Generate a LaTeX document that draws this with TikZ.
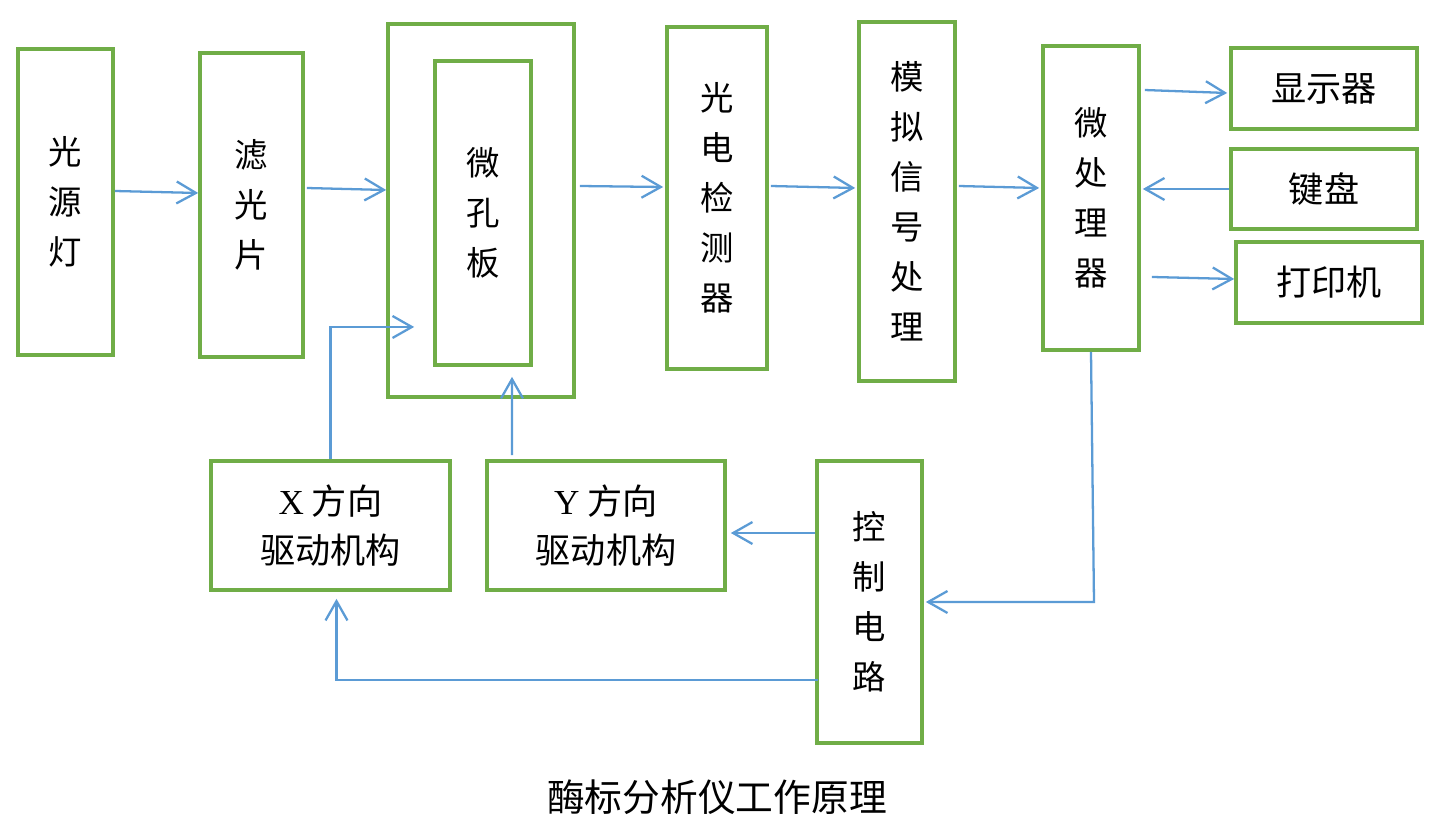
\documentclass[tikz,border=0pt]{standalone}
\usepackage{fontspec}
\setmainfont{Liberation Serif}
\newfontfamily\cjk{Noto Sans CJK SC}
\usepackage{xcolor}
\usepackage{tikz}
\usetikzlibrary{positioning, arrows.meta}
\definecolor{caja}{RGB}{112,173,71}
\definecolor{flecha}{RGB}{91,155,213}

\begin{document}
\begin{tikzpicture}[x=0.02cm, y=-0.02cm,
    bloque/.style={draw=caja, line width=2.1pt, rectangle, inner sep=0pt,
        align=center, font=\cjk\fontsize{19}{28.5}\selectfont},
    flechita/.style={draw=flecha, line width=1.3pt,
        -{Straight Barb[length=11pt, width=12.5pt, line width=1.3pt]}}]
    \useasboundingbox (0,0) rectangle (1454,827);
    % Bloques de la fila superior
    \node[bloque, minimum width=1.9cm, minimum height=6.12cm] (lampara) at (65.5,202) {光\\源\\灯};
    \node[bloque, minimum width=2.06cm, minimum height=6.08cm] (filtro) at (251.5,205) {滤\\光\\片};
    \node[bloque, minimum width=3.72cm, minimum height=7.46cm] (placa) at (481,210.5) {};
    \node[bloque, minimum width=1.92cm, minimum height=6.08cm] (pocillo) at (483,213) {微\\孔\\板};
    \node[bloque, minimum width=2.0cm, minimum height=6.84cm] (detector) at (717,198) {光\\电\\检\\测\\器};
    \node[bloque, minimum width=1.92cm, minimum height=7.18cm] (senal) at (907,201.5) {模\\拟\\信\\号\\处\\理};
    \node[bloque, minimum width=1.92cm, minimum height=6.08cm] (cpu) at (1091,198) {微\\处\\理\\器};
    % Perifericos
    \node[bloque, font=\cjk\fontsize{20}{30}\selectfont, minimum width=3.72cm, minimum height=1.62cm] (pantalla) at (1324,88.5) {显示器};
    \node[bloque, font=\cjk\fontsize{20}{30}\selectfont, minimum width=3.72cm, minimum height=1.6cm] (teclado) at (1324,189) {键盘};
    \node[bloque, font=\cjk\fontsize{20}{30}\selectfont, minimum width=3.72cm, minimum height=1.62cm] (impresora) at (1329,282.5) {打印机};
    % Bloques de la fila inferior
    \node[bloque, font=\cjk\fontsize{20}{28}\selectfont, minimum width=4.78cm, minimum height=2.58cm] (motorx) at (330.5,525.5) {{\rmfamily X} 方向\\驱动机构};
    \node[bloque, font=\cjk\fontsize{20}{28}\selectfont, minimum width=4.76cm, minimum height=2.58cm] (motory) at (606,525.5) {{\rmfamily Y} 方向\\驱动机构};
    \node[bloque, minimum width=2.1cm, minimum height=5.64cm] (control) at (869.5,602) {控\\制\\电\\路};
    % Texto debajo del diagrama
    \node[font=\cjk\fontsize{21.5}{26}\selectfont] (titulo) at (717,797) {酶标分析仪工作原理};
    % Flechas de la fila superior
    \draw[flechita] ([yshift=0.22cm]lampara.east) -- ([yshift=0.24cm]filtro.west);
    \draw[flechita] ([xshift=0.04cm, yshift=0.34cm]filtro.east) -- ([yshift=0.41cm]placa.west);
    \draw[flechita] ([xshift=0.08cm, yshift=0.49cm]placa.east) -- ([xshift=-0.04cm, yshift=0.22cm]detector.west);
    \draw[flechita] ([xshift=0.04cm, yshift=0.24cm]detector.east) -- ([xshift=-0.04cm, yshift=0.27cm]senal.west);
    \draw[flechita] ([xshift=0.04cm, yshift=0.31cm]senal.east) -- ([xshift=-0.04cm, yshift=0.2cm]cpu.west);
    \draw[flechita] ([xshift=0.08cm, yshift=2.16cm]cpu.east) -- ([xshift=-0.04cm, yshift=-0.09cm]pantalla.west);
    \draw[flechita] (teclado.west) -- ([xshift=0.04cm]cpu.east |- teclado.west);
    \draw[flechita] ([xshift=0.22cm, yshift=-1.58cm]cpu.east) -- ([yshift=0.07cm]impresora.west);
    % Flechas de control
    \draw[flechita] (cpu.south) -- ([xshift=0.06cm]cpu.south |- control.east) -- ([xshift=0.04cm]control.east);
    \draw[flechita] ([yshift=1.38cm]control.west) -- ([xshift=0.08cm, yshift=1.38cm]control.west -| motory.east);
    \draw[flechita] ([xshift=0.06cm, yshift=-1.56cm]control.west) -| ([xshift=0.12cm, yshift=-0.14cm]motorx.south);
    \draw[flechita] ([xshift=-1.88cm, yshift=0.08cm]motory.north) -- ([xshift=0.58cm, yshift=-0.2cm]pocillo.south);
    \draw[flechita] (motorx.north) |- ([xshift=0.56cm, yshift=-2.33cm]placa.west);
\end{tikzpicture}
\end{document}
